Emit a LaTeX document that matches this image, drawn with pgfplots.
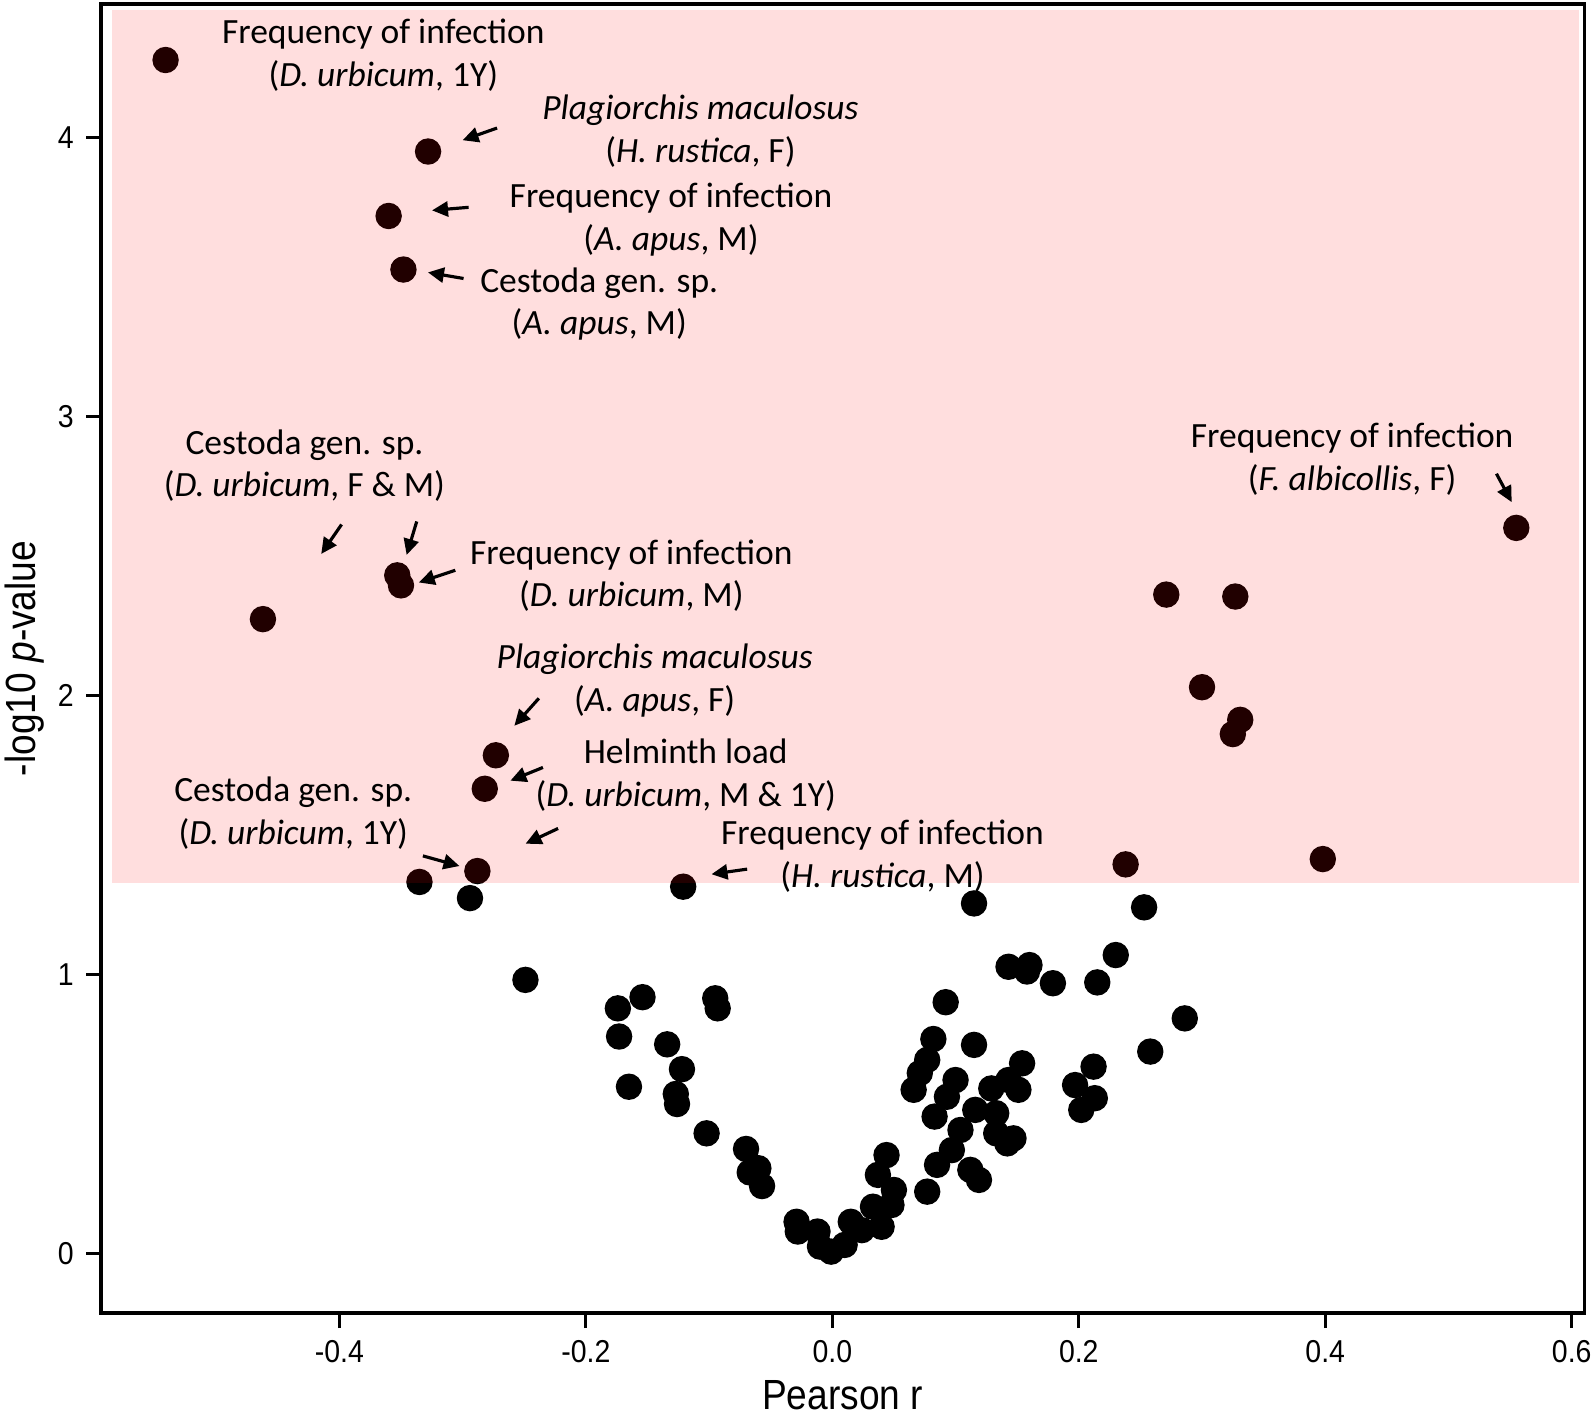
\documentclass[border=0pt]{standalone}
\usepackage{fontspec}
\setmainfont{Carlito}
\newfontfamily\arialf[FakeStretch=0.9]{Liberation Sans}
\newfontfamily\ariall[FakeStretch=0.88]{Liberation Sans}
\usepackage{pgfplots}
\pgfplotsset{compat=1.18}
\usetikzlibrary{arrows.meta}
\begin{document}
\begin{tikzpicture}[
  ann/.style={align=center, font=\fontsize{10.1}{12.15}\selectfont, inner sep=0pt},
  arr/.style={-{Triangle[length=1.6mm,width=1.5mm]}, line width=0.9pt},
]
\begin{axis}[
  set layers,
  scale only axis, width=148.33mm, height=130.9mm,
  xmin=-0.5934, xmax=0.6102, ymin=-0.214, ymax=4.4778,
  axis line style={line width=0.9pt},
  every tick/.style={black, line width=0.9pt},
  tick align=outside, tick pos=left,
  major tick length=1.5mm,
  xtick={-0.4,-0.2,0,0.2,0.4,0.6},
  xticklabels={-0.4,-0.2,0.0,0.2,0.4,0.6},
  ytick={0,1,2,3,4},
  yticklabels={0,1,2,3,4},
  tick label style={font=\arialf\fontsize{9}{10}\selectfont},
  xlabel={Pearson r}, ylabel={-log10 \textit{p}-value},
  label style={font=\ariall\fontsize{12}{14}\selectfont},
  xlabel style={at={(axis description cs:0.5,0)}, anchor=base, yshift=-9.6mm},
  ylabel style={at={([xshift=-7.6mm]axis description cs:0,0.5)}, anchor=center},
  clip=false,
]
\addplot[only marks, mark=*, mark size=1.25mm, mark options={draw=none, fill=black}] table {
x y
-0.541 4.277
-0.328 3.949
-0.360 3.718
-0.348 3.526
-0.462 2.273
-0.353 2.430
-0.350 2.394
-0.273 1.785
-0.282 1.665
-0.288 1.370
0.555 2.600
0.271 2.361
0.327 2.354
0.300 2.029
0.331 1.912
0.325 1.861
0.238 1.394
0.398 1.413
-0.335 1.331
-0.294 1.273
-0.121 1.314
0.115 1.254
0.253 1.240
-0.249 0.980
0.230 1.069
0.215 0.971
0.286 0.842
0.258 0.723
0.143 1.027
0.160 1.033
0.158 1.010
0.179 0.968
0.092 0.900
0.082 0.768
0.115 0.747
0.077 0.693
0.071 0.646
0.066 0.586
0.100 0.621
0.093 0.561
0.083 0.490
0.154 0.681
0.143 0.621
0.129 0.591
0.151 0.586
0.116 0.514
0.133 0.502
0.104 0.442
0.133 0.430
0.147 0.412
0.142 0.394
0.097 0.370
0.085 0.317
0.112 0.299
0.119 0.263
0.077 0.221
0.212 0.669
0.197 0.603
0.213 0.556
0.202 0.514
0.044 0.352
0.037 0.281
0.050 0.227
0.048 0.173
0.040 0.095
0.033 0.167
0.024 0.083
0.015 0.113
0.010 0.030
-0.001 0.006
-0.010 0.024
-0.012 0.078
-0.028 0.078
-0.029 0.113
-0.057 0.241
-0.067 0.290
-0.060 0.305
-0.070 0.374
-0.102 0.430
-0.126 0.535
-0.127 0.571
-0.165 0.597
-0.122 0.660
-0.134 0.749
-0.173 0.777
-0.093 0.878
-0.095 0.914
-0.154 0.918
-0.174 0.878
};
\begin{pgfonlayer}{axis foreground}
\fill[red, fill opacity=0.13] (axis cs:-0.5847,1.327) rectangle (axis cs:0.606,4.456);
\node[ann] at (axis cs:-0.3643,4.2955) {Frequency of infection\\(\textit{D. urbicum}, 1Y)};
\node[ann] at (axis cs:-0.1070,4.0215) {\textit{Plagiorchis maculosus}\\(\textit{H. rustica}, F)};
\node[ann] at (axis cs:-0.1309,3.7047) {Frequency of infection\\(\textit{A. apus}, M)};
\node[ann] at (axis cs:-0.1891,3.4029) {Cestoda gen. sp.\\(\textit{A. apus}, M)};
\node[ann] at (axis cs:-0.4283,2.8232) {Cestoda gen. sp.\\(\textit{D. urbicum}, F \& M)};
\node[ann] at (axis cs:-0.1631,2.4282) {Frequency of infection\\(\textit{D. urbicum}, M)};
\node[ann] at (axis cs:-0.1441,2.0529) {\textit{Plagiorchis maculosus}\\(\textit{A. apus}, F)};
\node[ann] at (axis cs:-0.1189,1.7140) {Helminth load\\(\textit{D. urbicum}, M \& 1Y)};
\node[ann] at (axis cs:-0.4374,1.5773) {Cestoda gen. sp.\\(\textit{D. urbicum}, 1Y)};
\node[ann] at (axis cs:0.0407,1.4225) {Frequency of infection\\(\textit{H. rustica}, M)};
\node[ann] at (axis cs:0.4218,2.8472) {Frequency of infection\\(\textit{F. albicollis}, F)};
\draw[arr] (axis cs:-0.2720,4.0332) -- (axis cs:-0.3000,3.9895);
\draw[arr] (axis cs:-0.2951,3.7490) -- (axis cs:-0.3248,3.7381);
\draw[arr] (axis cs:-0.2992,3.4939) -- (axis cs:-0.3281,3.5158);
\draw[arr] (axis cs:-0.3982,2.6122) -- (axis cs:-0.4147,2.5066);
\draw[arr] (axis cs:-0.3372,2.6231) -- (axis cs:-0.3454,2.5029);
\draw[arr] (axis cs:-0.3059,2.4482) -- (axis cs:-0.3356,2.4044);
\draw[arr] (axis cs:-0.2381,1.9892) -- (axis cs:-0.2580,1.8908);
\draw[arr] (axis cs:-0.2348,1.7414) -- (axis cs:-0.2612,1.6940);
\draw[arr] (axis cs:-0.2225,1.5227) -- (axis cs:-0.2489,1.4681);
\draw[arr] (axis cs:-0.3322,1.4244) -- (axis cs:-0.3025,1.3880);
\draw[arr] (axis cs:-0.0691,1.3770) -- (axis cs:-0.0980,1.3588);
\draw[arr] (axis cs:0.5389,2.7942) -- (axis cs:0.5513,2.6922);
\end{pgfonlayer}
\end{axis}
\pgfresetboundingbox
\path[use as bounding box] ([shift={(-10.1mm,-10.1mm)}]current axis.south west) rectangle ([shift={(0.97mm,0.4mm)}]current axis.north east);
\end{tikzpicture}
\end{document}
